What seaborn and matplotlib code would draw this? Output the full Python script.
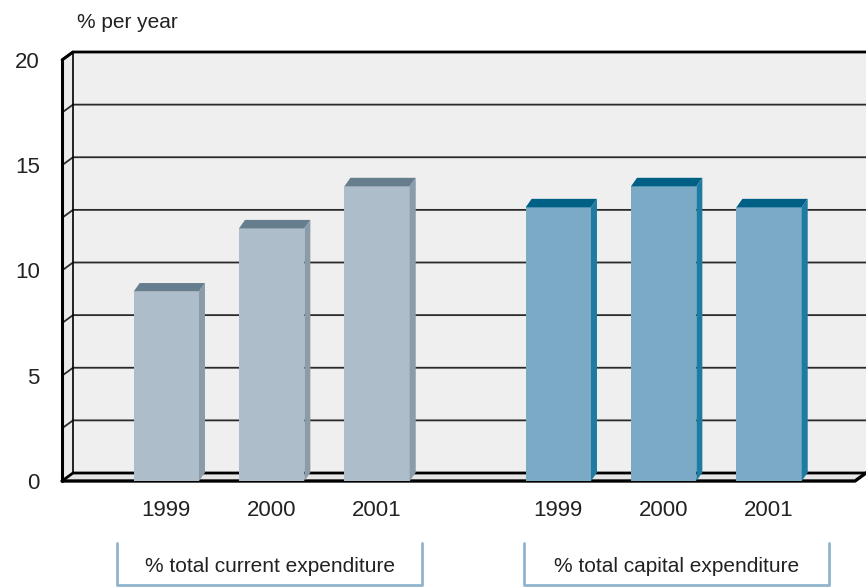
import matplotlib
matplotlib.use("Agg")
import matplotlib.pyplot as plt
from matplotlib.patches import Polygon
import seaborn as sns
import numpy as np

# ---- data ----
years = ["1999", "2000", "2001"]
groups = ["% total current expenditure", "% total capital expenditure"]
current_values = [9, 12, 14]
capital_values = [13, 14, 13]
y_ticks = [0, 5, 10, 15, 20]
y_label = "% per year"

sns.set_theme(style="white")
plt.rcParams["font.family"] = ["Liberation Sans", "DejaVu Sans"]
FS = 15

W, H = 866, 588
fig = plt.figure(figsize=(W / 100, H / 100), dpi=100)
ax_left_px, ax_right_px, ax_bottom_px, ax_top_px = 62, 866, 481, 60
ax = fig.add_axes([ax_left_px / W, 1 - ax_bottom_px / H,
                   (ax_right_px - ax_left_px) / W, (ax_bottom_px - ax_top_px) / H])

group_gap = 3.72
bar_width = 0.62
styles = [
    dict(front="#adbdc9", top="#657d8d", side="#8a9caa"),
    dict(front="#7aaac6", top="#005f85", side="#1f7ba1"),
]
series = [current_values, capital_values]

xmin, xmax = -0.99, 6.64
ymax = 20
unit_px_x = (ax_right_px - ax_left_px) / (xmax - xmin)
unit_px_y = (ax_bottom_px - ax_top_px) / ymax
def dx(px):
    return px / unit_px_x
def dy(px):
    return px / unit_px_y

# ---- walls (drawn first, behind bars) ----
wdx, wdy = dx(11), dy(8)
wall_c = "#efefef"
ax.add_patch(Polygon([(xmin + wdx, wdy), (xmax, wdy), (xmax, ymax + wdy), (xmin + wdx, ymax + wdy)],
                     closed=True, fc=wall_c, ec="none", clip_on=False, zorder=0))
ax.add_patch(Polygon([(xmin, 0), (xmin + wdx, wdy), (xmin + wdx, ymax + wdy), (xmin, ymax)],
                     closed=True, fc="#ebebeb", ec="none", clip_on=False, zorder=0))
ax.add_patch(Polygon([(xmin, 0), (xmax - wdx, 0), (xmax, wdy), (xmin + wdx, wdy)],
                     closed=True, fc="#e6e6e6", ec="none", clip_on=False, zorder=0))
for v in np.arange(0, ymax + 0.01, 2.5):
    lw = 2.0 if v in (0, ymax) else 1.3
    col = "black" if v in (0, ymax) else "#2a2a2a"
    ax.plot([xmin, xmin + wdx, xmax], [v, v + wdy, v + wdy], color=col, lw=lw,
            clip_on=False, zorder=1, solid_capstyle="butt")
# front edges
ax.plot([xmin, xmin], [0, ymax], color="black", lw=2.2, clip_on=False, zorder=1)
ax.plot([xmin, xmin + wdx], [ymax, ymax + wdy], color="black", lw=2.0, clip_on=False, zorder=1)
ax.plot([xmin + wdx, xmin + wdx], [wdy, ymax + wdy], color="black", lw=1.2, clip_on=False, zorder=1)
ax.plot([xmin, xmax - wdx, xmax], [0, 0, wdy], color="black", lw=2.4, clip_on=False, zorder=1)

# ---- bars ----
bdx, bdy = dx(6), dy(8.5)
positions = []
for gi, (vals, st) in enumerate(zip(series, styles)):
    xs = [gi * group_gap + i for i in range(len(vals))]
    positions += xs
    before = len(ax.patches)
    sns.barplot(x=xs, y=vals, native_scale=True, color=st["front"], saturation=1,
                width=bar_width, ax=ax, zorder=3, linewidth=0)
    for p in ax.patches[before:]:
        x0, w, h = p.get_x(), p.get_width(), p.get_height()
        ax.add_patch(Polygon([(x0, h), (x0 + w, h), (x0 + w + bdx, h + bdy), (x0 + bdx, h + bdy)],
                             closed=True, fc=st["top"], ec="none", zorder=3))
        ax.add_patch(Polygon([(x0 + w, 0), (x0 + w, h), (x0 + w + bdx, h + bdy), (x0 + w + bdx, bdy)],
                             closed=True, fc=st["side"], ec="none", zorder=3))

ax.set_xlim(xmin, xmax)
ax.set_ylim(0, ymax)
for s in ax.spines.values():
    s.set_visible(False)
ax.set_xticks(positions)
ax.set_xticklabels(years * len(groups), fontsize=FS + 1, color="#222222")
ax.set_yticks(y_ticks)
ax.set_yticklabels([str(t) for t in y_ticks], fontsize=FS + 1, color="#222222")
ax.tick_params(axis="x", length=0, pad=14)
ax.tick_params(axis="y", length=0, pad=16)
ax.set_xlabel("")
ax.set_ylabel("")
ax.grid(False)

# ---- group brackets ----
box_c = "#8fb4cc"
xt = ax.get_xaxis_transform()
y_top, y_bot, y_txt = (ax_bottom_px - 543) / (ax_bottom_px - ax_top_px), \
    (ax_bottom_px - 585) / (ax_bottom_px - ax_top_px), (ax_bottom_px - 566) / (ax_bottom_px - ax_top_px)
half = 1.45
for gi, name in enumerate(groups):
    c = gi * group_gap + 1 + 0.14 * gi - 0.02
    ax.plot([c - half, c - half, c + half, c + half], [y_top, y_bot, y_bot, y_top],
            color=box_c, lw=2, transform=xt, clip_on=False)
    ax.text(c, y_txt, name, transform=xt, ha="center", va="center", fontsize=FS, color="#222222")

fig.text(77 / W, 1 - 22 / H, y_label, ha="left", va="center", fontsize=FS, color="#222222")

fig.savefig("out.png", dpi=100, facecolor="white")
